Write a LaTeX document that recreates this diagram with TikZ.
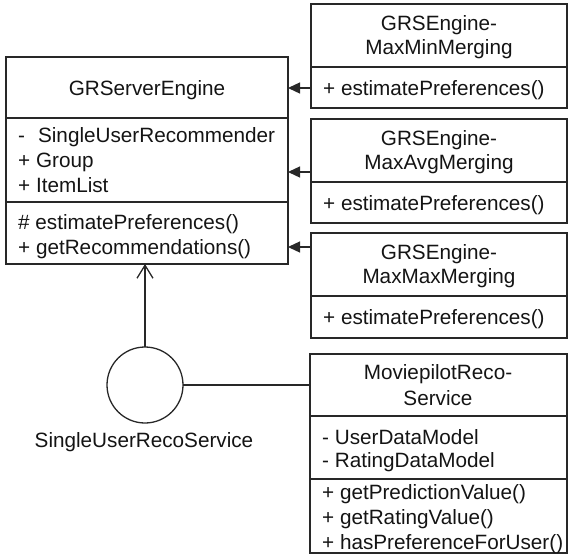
\documentclass[tikz,border=0pt]{standalone}
\usepackage{fontspec}
\setmainfont{Liberation Sans}
\usetikzlibrary{arrows.meta}
\definecolor{ln}{RGB}{40,40,40}
\definecolor{tx}{RGB}{20,20,20}
\begin{document}
\begin{tikzpicture}[x=1pt,y=-1pt,
  cls/.style={draw=ln, line width=1.3pt, inner sep=0pt, outer sep=0pt, anchor=north west},
  sep/.style={draw=ln, line width=1.1pt},
  septhick/.style={draw=ln, line width=2.4pt},
  txt/.style={anchor=base west, inner sep=0pt, text=tx, font=\fontsize{20.7}{25}\selectfont},
  ctxt/.style={anchor=base, inner sep=0pt, text=tx, font=\fontsize{20.7}{25}\selectfont},
  gen/.style={draw=ln, line width=1.3pt, -{Triangle[length=12pt,width=11pt]}},
  dep/.style={draw=ln, line width=1.3pt, -{Straight Barb[length=13pt,width=16pt]}},
  plain/.style={draw=ln, line width=1.3pt}]
\useasboundingbox (0,0) rectangle (568,555);

% GRServerEngine
\node[cls, minimum width=282pt, minimum height=207pt] (gr) at (6,57) {};
\draw[septhick] (6,118) -- (288,118);
\draw[sep] (6,202) -- (288,202);
\node[ctxt] (grt) at (147,95) {GRServerEngine};
\node[txt] (gra1) at (18,142.5) {-\hspace*{13pt}SingleUserRecommender};
\node[txt] (gra2) at (18,167.5) {+ Group};
\node[txt] (gra3) at (18,192.5) {+ ItemList};
\node[txt] (grm1) at (18,229.5) {\# estimatePreferences()};
\node[txt] (grm2) at (18,254.5) {+ getRecommendations()};

% MaxMin
\node[cls, minimum width=256pt, minimum height=104pt] (b1) at (311,4) {};
\draw[sep] (311,67) -- (567,67);
\node[ctxt] (b1t1) at (439,30.5) {GRSEngine-};
\node[ctxt] (b1t2) at (439,54.5) {MaxMinMerging};
\node[txt] (b1m) at (323,95.5) {+ estimatePreferences()};

% MaxAvg
\node[cls, minimum width=256pt, minimum height=104pt] (b2) at (311,119) {};
\draw[sep] (311,182) -- (567,182);
\node[ctxt] (b2t1) at (439,145.5) {GRSEngine-};
\node[ctxt] (b2t2) at (439,169.5) {MaxAvgMerging};
\node[txt] (b2m) at (323,210.5) {+ estimatePreferences()};

% MaxMax
\node[cls, minimum width=256pt, minimum height=105pt] (b3) at (311,233) {};
\draw[sep] (311,296) -- (567,296);
\node[ctxt] (b3t1) at (439,259.5) {GRSEngine-};
\node[ctxt] (b3t2) at (439,283.5) {MaxMaxMerging};
\node[txt] (b3m) at (323,324.5) {+ estimatePreferences()};

% Moviepilot
\node[cls, minimum width=257pt, minimum height=199pt] (mp) at (310,354) {};
\draw[sep] (310,416) -- (567,416);
\draw[sep] (310,479) -- (567,479);
\node[ctxt] (mpt1) at (438,379.5) {MoviepilotReco-};
\node[ctxt] (mpt2) at (438,405.5) {Service};
\node[txt] (mpa1) at (322,444.5) {- UserDataModel};
\node[txt] (mpa2) at (322,467.5) {- RatingDataModel};
\node[txt] (mpm1) at (322,499.5) {+ getPredictionValue()};
\node[txt] (mpm2) at (322,524.5) {+ getRatingValue()};
\node[txt] (mpm3) at (322,549.5) {+ hasPreferenceForUser()};

% Interface
\node[draw=ln, line width=1.3pt, circle, minimum size=76pt, inner sep=0pt, outer sep=0pt] (iface) at (145,385) {};
\node[ctxt] (ifl) at (144,447.5) {SingleUserRecoService};

% connectors
\coordinate (y1) at (0,88);
\coordinate (y2) at (0,172);
\coordinate (y3) at (0,247);
\draw[gen] (b1.west |- y1) -- (gr.east |- y1);
\draw[gen] (b2.west |- y2) -- (gr.east |- y2);
\draw[gen] (b3.west |- y3) -- (gr.east |- y3);
\draw[dep] (iface.north) -- (iface.north |- gr.south);
\draw[plain] (iface.east) -- (mp.west |- iface.east);
\end{tikzpicture}
\end{document}
